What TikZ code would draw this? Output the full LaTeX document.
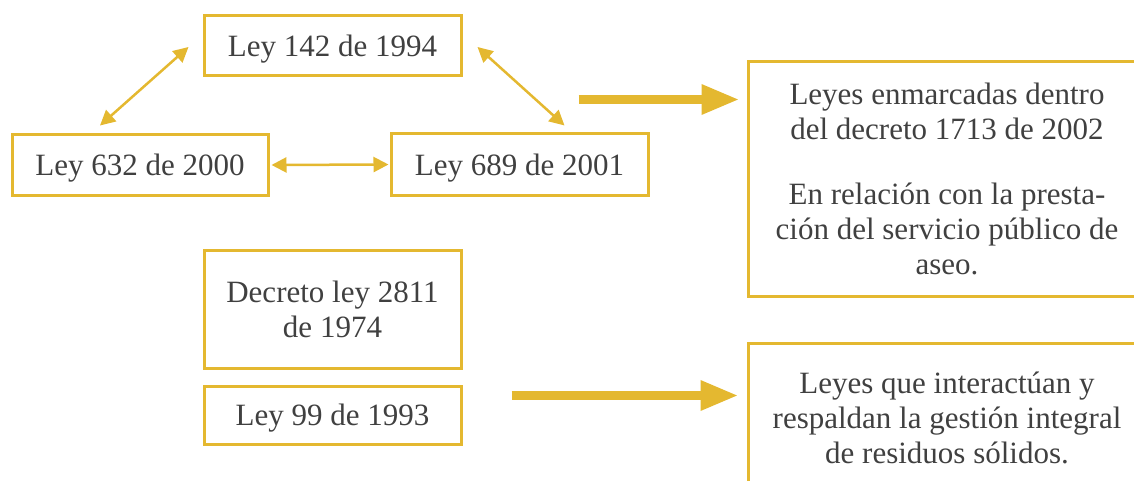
\documentclass[tikz,border=0pt]{standalone}
\usepackage{fontspec}
\setmainfont{Liberation Serif}
\usetikzlibrary{arrows.meta,calc}
\definecolor{gold}{RGB}{228,184,48}
\definecolor{ink}{RGB}{64,64,64}
\begin{document}
\begin{tikzpicture}[x=1pt,y=-1pt,
  lawbox/.style={draw=gold,line width=3pt,rectangle,inner sep=0pt,text depth=0pt,
    text=ink,align=center,font=\fontsize{31}{35}\selectfont},
  link/.style={draw=gold,line width=2.5pt,
    {Triangle[length=15pt,width=15pt]}-{Triangle[length=15pt,width=15pt]}},
  bigarrow/.style={draw=gold,line width=9pt,-{Triangle[length=38pt,width=28pt]}}]
\useasboundingbox (0,0) rectangle (1134,481);
\clip (0,0) rectangle (1134,481);

% laws
\node[lawbox,minimum width=257pt,minimum height=60pt] (b142) at (332.5,46) {Ley 142 de 1994};
\node[lawbox,minimum width=256pt,minimum height=60pt] (b632) at (140,165) {Ley 632 de 2000};
\node[lawbox,minimum width=257pt,minimum height=61pt] (b689) at (519.5,164.5) {Ley 689 de 2001};
\node[lawbox,minimum width=257pt,minimum height=118pt] (dec) at (332.5,309) {Decreto ley 2811\\de 1974};
\node[lawbox,minimum width=257pt,minimum height=58pt] (b99) at (332.5,415) {Ley 99 de 1993};

% summaries
\node[lawbox,minimum width=398pt,minimum height=234pt] (rtop) at (947,179)
  {Leyes enmarcadas dentro\\del decreto 1713 de 2002\\[30pt]En relación con la presta-\\ción del servicio público de\\aseo.};
\node[lawbox,minimum width=398pt,minimum height=150pt] (rbot) at (947,418)
  {Leyes que interactúan y\\respaldan la gestión integral\\de residuos sólidos.};

% relations between laws
\coordinate (l1) at ($(b142.west)+(-14,1)$);
\coordinate (l2) at ($(b632.north)+(-40,-8)$);
\coordinate (r1) at ($(b142.east)+(15,1)$);
\coordinate (r2) at ($(b689.north)+(45,-7)$);
\draw[link] (l1) -- (l2);
\draw[link] (r1) -- (r2);
\draw[link,shorten <=2pt,shorten >=1pt] (b632.east) -- (b689.west);

% arrows to summaries
\coordinate (t0) at ($(b689.north east)+(-71,-33)$);
\coordinate (t1) at ($(rtop.north west)+(-7,39)$);
\draw[bigarrow] (t0) -- (t1);
\coordinate (u0) at ($(b99.north east)+(49,11)$);
\coordinate (u1) at ($(rbot.north west)+(-8,54)$);
\draw[bigarrow] (u0) -- (u1);
\end{tikzpicture}
\end{document}
